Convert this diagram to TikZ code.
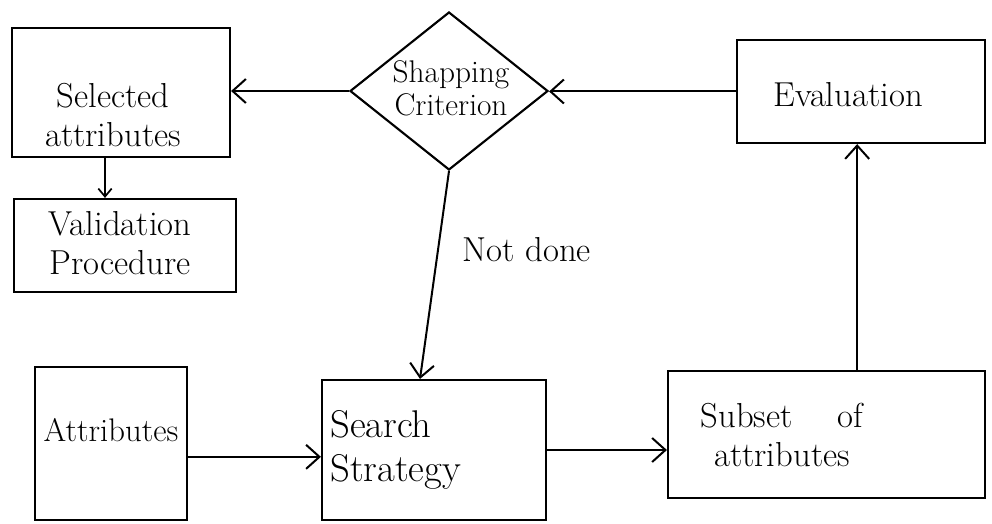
\documentclass[tikz,border=0pt]{standalone}
\usetikzlibrary{arrows.meta,shapes.geometric,calc}
\begin{document}
\begin{tikzpicture}[x=0.75pt,y=-0.75pt,
  box/.style={draw,line width=1.6pt,inner sep=0pt},
  txt/.style={font=\fontsize{26}{29}\selectfont,align=center,inner sep=0pt},
  arr/.style={line width=1.5pt,-{Straight Barb[length=10pt,width=18pt,line width=1.5pt]}},
  smallarr/.style={line width=1.3pt,-{Straight Barb[length=6pt,width=10pt,line width=1.3pt]}}]
\useasboundingbox (0,0) rectangle (992,524);
\fill[white] (0,0) rectangle (992,524);
\node[box,minimum width=218*0.75pt,minimum height=129*0.75pt] (sel) at (121,92.5) {};
\node[txt] (selt) at (113,115) {Selected\\attributes};
\node[box,minimum width=222*0.75pt,minimum height=93*0.75pt] (val) at (125,245.5) {};
\node[txt] (valt) at (120,243) {Validation\\Procedure};
\node[draw,line width=1.6pt,diamond,inner sep=0pt,minimum width=198*0.75pt,minimum height=158*0.75pt] (crit) at (449,91) {};
\node[txt,font=\fontsize{23.5}{25}\selectfont] (critt) at (451,88) {Shapping\\Criterion};
\node[box,minimum width=248*0.75pt,minimum height=103*0.75pt] (eval) at (861,91.5) {};
\node[txt] (evalt) at (848,95) {Evaluation};
\node[box,minimum width=152*0.75pt,minimum height=153*0.75pt] (attr) at (111,443.5) {};
\node[txt,font=\fontsize{24.5}{27}\selectfont] (attrt) at (111,430) {Attributes};
\node[box,minimum width=224*0.75pt,minimum height=140*0.75pt] (search) at (434,450) {};
\node[txt,font=\fontsize{29}{33}\selectfont,align=left,anchor=west] (searcht) at (330,450) {Search\\Strategy};
\node[box,minimum width=317*0.75pt,minimum height=127*0.75pt] (subset) at (826.5,434.5) {};
\node[txt] (subsett) at (782,435) {Subset \quad of\\attributes};
\draw[arr] (eval.west) -- (eval.west -| crit.east);
\draw[arr] (crit.west) -- (crit.west -| sel.east);
\draw[smallarr] ([xshift=-12pt]sel.south) -- ([xshift=-12pt]sel.south |- val.north);
\draw[arr] (crit.south) -- ([xshift=-10.5pt]search.north);
\node[txt] (nd) at (527,250) {Not done};
\draw[arr] ([yshift=-10pt]attr.east) -- ([yshift=-10pt]attr.east -| search.west);
\draw[arr] (search.east) -- (search.east -| subset.west);
\draw[arr] ([xshift=23pt]subset.north) -- ([xshift=23pt]subset.north |- eval.south);
\end{tikzpicture}
\end{document}
